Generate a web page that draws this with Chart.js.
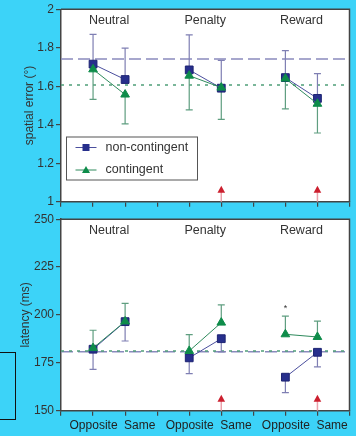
<!DOCTYPE html>
<html>
<head>
<meta charset="utf-8">
<script src="https://cdn.jsdelivr.net/npm/chart.js@4.4.0/dist/chart.umd.min.js"></script>
<style>
html, body { margin: 0; padding: 0; background: #3cd3f8; }
body { width: 356px; height: 436px; position: relative; overflow: hidden; }
#wrapTop { position: absolute; left: 0; top: 0; width: 356px; height: 212px; }
#wrapBot { position: absolute; left: 0; top: 210px; width: 356px; height: 226px; }
#stray { position: absolute; left: -2px; top: 352px; width: 16px; height: 66px; border: 1.5px solid #111; }
</style>
</head>
<body>
<div id="wrapTop"><canvas id="topChart" width="356" height="212"></canvas></div>
<div id="wrapBot"><canvas id="botChart" width="356" height="226"></canvas></div>
<div id="stray"></div>
<script>
// Spatial error / latency by condition — two stacked Chart.js line panels

const xPositions = [1, 2, 4, 5, 7, 8];
const xLabels = ['Opposite', 'Same', 'Opposite', 'Same', 'Opposite', 'Same'];
const groupNames = ['Neutral', 'Penalty', 'Reward'];
const groupCenters = [1.5, 4.5, 7.5];

// spatial error (deg)
const spatialNonCont = [1.715, 1.635, 1.685, 1.590, 1.645, 1.537];
const spatialNonContErr = [0.155, 0.163, 0.182, 0.145, 0.140, 0.129];
const spatialCont = [1.688, 1.557, 1.655, 1.593, 1.640, 1.509];
const spatialContErr = [0.156, 0.153, 0.178, 0.165, 0.158, 0.152];
const spatialRefs = [1.742, 1.607];           // non-contingent, contingent baselines
const spatialArrows = [5, 8];

// latency (ms)
const latNonCont = [182.1, 196.5, 177.6, 187.6, 167.5, 180.5];
const latNonContErr = [10.5, 10.1, 8.2, 6.9, 8.1, 7.6];
const latCont = [182.7, 196.6, 181.2, 196.0, 189.9, 188.5];
const latContErr = [9.3, 9.4, 8.5, 9.3, 9.5, 8.3];
const latRefs = [180.8, 181.2];
const latArrows = [5, 8];
const latStars = [{ x: 7, y: 204.6 }];

const BLUE = '#272f8c', GREEN = '#0e8c4a';
const FONT = '"Liberation Sans", Arial, sans-serif';

function toPoints(vals) {
    const pts = [];
    vals.forEach((v, i) => {
        pts.push({ x: xPositions[i], y: v });
        if (i % 2 === 1 && i < vals.length - 1) pts.push({ x: xPositions[i] + 1, y: null });
    });
    return pts;
}

const panelPlugin = {
    id: 'panel',
    beforeDraw(chart) {
        const { ctx, chartArea: { left, right, top, bottom } } = chart;
        ctx.save();
        ctx.fillStyle = '#fff';
        ctx.fillRect(left, top, right - left, bottom - top);
        ctx.restore();
    },
    beforeDatasetsDraw(chart) {
        const { ctx, chartArea: { left, right }, scales: { x, y } } = chart;
        const extra = chart.options.plugins.panel;
        ctx.save();
        // baselines
        const styles = [
            { color: '#8a8abd', dash: [12, 5], w: 1.5 },
            { color: '#4f9f78', dash: [3, 5], w: 1.5 }
        ];
        extra.refs.forEach((v, i) => {
            const py = y.getPixelForValue(v);
            ctx.strokeStyle = styles[i].color;
            ctx.lineWidth = styles[i].w;
            ctx.setLineDash(styles[i].dash);
            ctx.beginPath(); ctx.moveTo(left, py); ctx.lineTo(right, py); ctx.stroke();
        });
        ctx.setLineDash([]);
        // one-sided error bars
        chart.data.datasets.forEach(ds => {
            ctx.strokeStyle = ds.errColor;
            ctx.lineWidth = 1.2;
            ds.errors.forEach((e, i) => {
                const v = ds.values[i];
                const px = x.getPixelForValue(xPositions[i]);
                const p0 = y.getPixelForValue(v);
                const p1 = y.getPixelForValue(v + ds.errDir * e);
                ctx.beginPath();
                ctx.moveTo(px, p0); ctx.lineTo(px, p1);
                ctx.moveTo(px - 3.5, p1); ctx.lineTo(px + 3.5, p1);
                ctx.stroke();
            });
        });
        ctx.restore();
    },
    afterDatasetsDraw(chart) {
        const { ctx, chartArea: { left, right, top, bottom }, scales: { x, y } } = chart;
        const extra = chart.options.plugins.panel;
        ctx.save();
        // frame top / right
        ctx.strokeStyle = '#444';
        ctx.lineWidth = 1.5;
        ctx.beginPath();
        ctx.moveTo(left, top); ctx.lineTo(right, top); ctx.lineTo(right, bottom);
        ctx.stroke();
        // group names
        ctx.fillStyle = '#333';
        ctx.font = '12.5px ' + FONT;
        ctx.textAlign = 'center';
        ctx.textBaseline = 'middle';
        groupNames.forEach((g, i) => ctx.fillText(g, x.getPixelForValue(groupCenters[i]), top + 11.5));
        // category labels: "Opposite" centred on its tick, "Same" starts at its tick
        if (extra.showX) {
            ctx.fillStyle = '#222';
            ctx.font = '12px ' + FONT;
            xLabels.forEach((lab, i) => {
                const px = x.getPixelForValue(xPositions[i]);
                if (i % 2 === 0) { ctx.textAlign = 'center'; ctx.fillText(lab, px + 0.5, bottom + 14.5); }
                else { ctx.textAlign = 'left'; ctx.fillText(lab, px - 1, bottom + 14.5); }
            });
            ctx.textAlign = 'center';
        }
        // red arrows
        extra.arrows.forEach(a => {
            const px = x.getPixelForValue(a);
            ctx.strokeStyle = '#eba0aa';
            ctx.lineWidth = 1.5;
            ctx.beginPath(); ctx.moveTo(px, bottom); ctx.lineTo(px, bottom - 10); ctx.stroke();
            ctx.fillStyle = '#cc1f2e';
            ctx.beginPath();
            ctx.moveTo(px, bottom - 16);
            ctx.lineTo(px + 3.8, bottom - 9);
            ctx.lineTo(px - 3.8, bottom - 9);
            ctx.closePath(); ctx.fill();
        });
        // significance stars
        ctx.fillStyle = '#333';
        ctx.font = '9px ' + FONT;
        (extra.stars || []).forEach(s => ctx.fillText('*', x.getPixelForValue(s.x), y.getPixelForValue(s.y) + 2));
        // legend
        if (extra.legend) {
            const L = extra.legend;
            ctx.fillStyle = '#fff';
            ctx.fillRect(L.x, L.y, L.w, L.h);
            ctx.strokeStyle = '#555';
            ctx.lineWidth = 1;
            ctx.strokeRect(L.x, L.y, L.w, L.h);
            chart.data.datasets.forEach((ds, i) => {
                const ly = L.y + 10.5 + i * 22.5;
                ctx.strokeStyle = ds.borderColor;
                ctx.lineWidth = 1;
                ctx.beginPath(); ctx.moveTo(L.x + 9, ly); ctx.lineTo(L.x + 30, ly); ctx.stroke();
                ctx.fillStyle = ds.pointBackgroundColor;
                const cx = L.x + 19.5;
                if (ds.pointStyle === 'rect') {
                    ctx.fillRect(cx - 3.5, ly - 3.5, 7, 7);
                } else {
                    ctx.beginPath();
                    ctx.moveTo(cx, ly - 4); ctx.lineTo(cx + 4, ly + 3); ctx.lineTo(cx - 4, ly + 3);
                    ctx.closePath(); ctx.fill();
                }
                ctx.fillStyle = '#333';
                ctx.font = '12.5px ' + FONT;
                ctx.textAlign = 'left';
                ctx.fillText(ds.label, L.x + 39, ly);
            });
        }
        ctx.restore();
    }
};

function makeDatasets(nonVals, nonErr, nonDir, conVals, conErr, conDir) {
    return [{
        label: 'non-contingent',
        data: toPoints(nonVals),
        values: nonVals, errors: nonErr, errDir: nonDir, errColor: '#7f7fb3',
        borderColor: '#4b4f9e', borderWidth: 1,
        pointStyle: 'rect', pointRadius: 5.5,
        pointBackgroundColor: BLUE, pointBorderColor: '#1d2372', pointBorderWidth: 1,
        order: 2
    }, {
        label: 'contingent',
        data: toPoints(conVals),
        values: conVals, errors: conErr, errDir: conDir, errColor: '#5f9e80',
        borderColor: '#2e8a5c', borderWidth: 1,
        pointStyle: 'triangle', pointRadius: 5,
        pointBackgroundColor: GREEN, pointBorderColor: GREEN, pointBorderWidth: 1,
        order: 1
    }];
}

function makeChart(id, cfg) {
    return new Chart(document.getElementById(id), {
        type: 'line',
        data: { datasets: cfg.datasets },
        options: {
            responsive: false,
            animation: false,
            layout: { padding: { top: cfg.padTop, right: 4, left: 0, bottom: 0 } },
            scales: {
                x: {
                    type: 'linear', min: 0, max: 9,
                    afterFit(s) { s.height = cfg.xHeight; },
                    ticks: { stepSize: 1, autoSkip: false, maxRotation: 0, callback: () => '' },
                    grid: { drawOnChartArea: false, tickLength: 5, color: '#444', lineWidth: 1.2 },
                    border: { color: '#444', width: 1.5 }
                },
                y: {
                    min: cfg.yMin, max: cfg.yMax,
                    afterFit(s) { s.width = 61; },
                    ticks: {
                        stepSize: cfg.step, padding: 2, color: '#333', font: { family: FONT, size: 12 },
                        callback: v => String(+v.toFixed(1))
                    },
                    grid: { drawOnChartArea: false, tickLength: 5, color: '#444', lineWidth: 1.2 },
                    border: { color: '#444', width: 1.5 },
                    title: {
                        display: true, text: cfg.title, color: '#333',
                        font: { family: FONT, size: 12 }, padding: { top: cfg.titlePad, bottom: 0 }
                    }
                }
            },
            plugins: {
                legend: { display: false },
                tooltip: { enabled: false },
                panel: { refs: cfg.refs, arrows: cfg.arrows, stars: cfg.stars, legend: cfg.legend, showX: cfg.showX }
            }
        },
        plugins: [panelPlugin]
    });
}

makeChart('topChart', {
    datasets: makeDatasets(spatialNonCont, spatialNonContErr, 1, spatialCont, spatialContErr, -1),
    yMin: 1, yMax: 2, step: 0.2,
    title: 'spatial error (°)', titlePad: 22,
    padTop: 9.3, xHeight: 10.3, showX: false,
    refs: spatialRefs, arrows: spatialArrows, stars: [],
    legend: { x: 66.5, y: 137, w: 131, h: 43 }
});

makeChart('botChart', {
    datasets: makeDatasets(latNonCont, latNonContErr, -1, latCont, latContErr, 1),
    yMin: 150, yMax: 250, step: 25,
    title: 'latency (ms)', titlePad: 18,
    padTop: 8.3, xHeight: 25.3, showX: true,
    refs: latRefs, arrows: latArrows, stars: latStars,
    legend: null
});
</script>
</body>
</html>
